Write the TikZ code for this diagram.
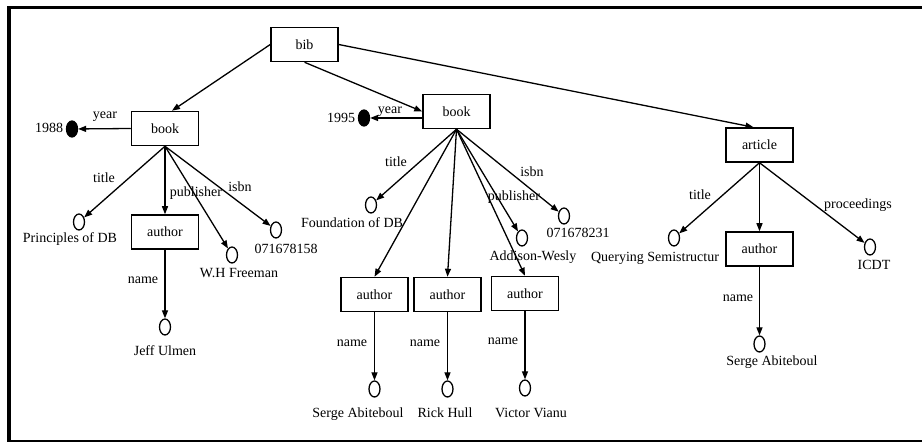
\documentclass[tikz,border=0pt]{standalone}
\usepackage{fontspec}
\setmainfont{Liberation Serif}
\usetikzlibrary{arrows.meta,shapes.geometric}
\begin{document}
\begin{tikzpicture}[x=1pt,y=-1pt,
  elem/.style={draw, line width=1.5pt, minimum width=67pt, minimum height=34pt,
               inner sep=0pt, font=\fontsize{14}{16}\selectfont},
  leaf/.style={draw, ellipse, line width=1.3pt, minimum width=11pt,
               minimum height=16pt, inner sep=0pt},
  yearleaf/.style={leaf, fill=black},
  val/.style={font=\fontsize{14}{16}\selectfont, inner sep=0pt},
  lbl/.style={val},
  link/.style={line width=1.3pt, -{Triangle[length=8pt,width=6pt]}},
]
\useasboundingbox (0,0) rectangle (922,443);

% frame
\draw[line width=3.6pt, line join=miter] (9.2,441) -- (9.2,7.5) -- (922,7.5);
\draw[line width=2pt] (7.4,441.3) -- (922,441.3);

% root
\node[elem] (bib) at (304.5,44.5) {bib};

% first book
\node[elem] (b1) at (165,128.5) {book};
\node[yearleaf] (y1) at (72,129) {};
\node[val] (v1988) at (49,128) {1988};
\node[lbl] (ly1) at (105,117) {year};
\node[leaf] (t1) at (79,222) {};
\node[val] (vt1) at (70,239) {Principles of DB};
\node[lbl] (lt1) at (104,178) {title};
\node[elem] (a1) at (165,232) {author};
\node[leaf] (p1) at (232,255) {};
\node[val] (vp1) at (239,273) {W.H Freeman};
\node[lbl] (lp1) at (196,193) {publisher};
\node[leaf] (i1) at (276,230) {};
\node[val] (vi1) at (286,249) {071678158};
\node[lbl] (li1) at (240,187) {isbn};
\node[leaf] (n1) at (165,327) {};
\node[val] (vn1) at (165,351) {Jeff Ulmen};
\node[lbl] (ln1) at (143,280) {name};

% second book
\node[elem] (b2) at (456.5,111.5) {book};
\node[yearleaf] (y2) at (364,118) {};
\node[val] (v1995) at (341,118) {1995};
\node[lbl] (ly2) at (390,112) {year};
\node[leaf] (t2) at (371,205) {};
\node[val] (vt2) at (352,223) {Foundation of DB};
\node[lbl] (lt2) at (396,162) {title};
\node[leaf] (p2) at (522,238) {};
\node[val] (vp2) at (533,257) {Addison-Wesly};
\node[lbl] (lp2) at (514,197) {publisher};
\node[leaf] (i2) at (564,216) {};
\node[val] (vi2) at (578,233) {071678231};
\node[lbl] (li2) at (532,172) {isbn};
\node[elem] (a21) at (374.5,294.5) {author};
\node[elem] (a22) at (447.5,294.5) {author};
\node[elem] (a23) at (525,293.5) {author};
\node[leaf] (n21) at (374.5,389) {};
\node[leaf] (n22) at (447.5,389) {};
\node[leaf] (n23) at (525,388) {};
\node[val] (vn21) at (358,414) {Serge Abiteboul};
\node[val] (vn22) at (445,413) {Rick Hull};
\node[val] (vn23) at (531,413) {Victor Vianu};
\node[lbl] (ln21) at (352,343) {name};
\node[lbl] (ln22) at (425,343) {name};
\node[lbl] (ln23) at (503,341) {name};

% article
\node[elem] (art) at (759.5,145) {article};
\node[leaf] (t3) at (674,238) {};
\node[val] (vt3) at (655,258) {Querying Semistructur};
\node[lbl] (lt3) at (700,195) {title};
\node[elem] (aa) at (759.5,249) {author};
\node[leaf] (pr) at (870,247) {};
\node[val] (vpr) at (874,265) {ICDT};
\node[lbl] (lpr) at (858,205) {proceedings};
\node[leaf] (n3) at (759.5,344) {};
\node[val] (vn3) at (772,362) {Serge Abiteboul};
\node[lbl] (ln3) at (738,298) {name};

% connectors from the root
\draw[link] (bib.west) -- ([xshift=7pt]b1.north);
\draw[link] (bib.south) -- (b2.west);
\draw[link] (bib.east) -- ([xshift=-6pt]art.north);

% first book edges
\draw[link] (b1.west) -- (y1);
\draw[link] (b1.south) -- (t1);
\draw[link] (b1.south) -- (a1.north);
\draw[link] (b1.south) -- (p1);
\draw[link] (b1.south) -- (i1);
\draw[link] (a1.south) -- (n1);

% second book edges
\draw[link] ([yshift=-6.5pt]b2.west) -- (y2);
\draw[link] (b2.south) -- (t2);
\draw[link] (b2.south) -- (a21.north);
\draw[link] (b2.south) -- (a22.north);
\draw[link] (b2.south) -- (a23.north);
\draw[link] (b2.south) -- (p2);
\draw[link] (b2.south) -- (i2);
\draw[link] (a21.south) -- (n21);
\draw[link] (a22.south) -- (n22);
\draw[link] (a23.south) -- (n23);

% article edges
\draw[link] (art.south) -- (t3);
\draw[link] (art.south) -- (aa.north);
\draw[link] (art.south) -- (pr);
\draw[link] (aa.south) -- (n3);
\end{tikzpicture}
\end{document}
